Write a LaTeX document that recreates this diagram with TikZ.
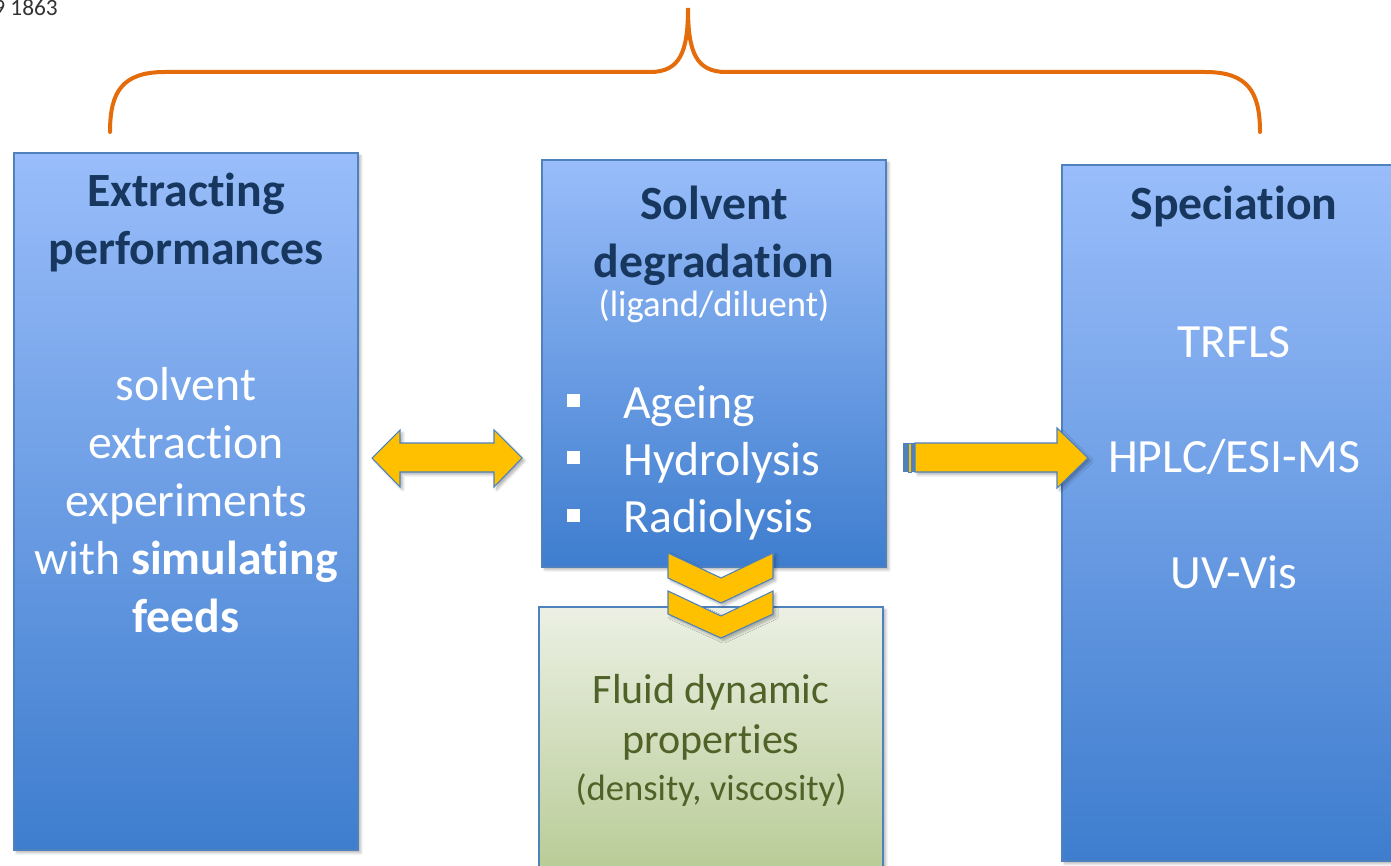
\documentclass[tikz,border=0pt]{standalone}
\usepackage{fontspec}
\setmainfont{Carlito}[Ligatures=NoCommon]
\usetikzlibrary{fit,shadows.blur}
\definecolor{boxtop}{RGB}{153,189,250}
\definecolor{boxbot}{RGB}{62,125,206}
\definecolor{boxline}{RGB}{79,129,189}
\definecolor{greentop}{RGB}{236,240,228}
\definecolor{greenbot}{RGB}{184,204,150}
\definecolor{headcol}{RGB}{23,55,94}
\definecolor{greentext}{RGB}{79,98,40}
\definecolor{arrowfill}{RGB}{255,192,0}
\definecolor{braceorange}{RGB}{228,108,10}
\begin{document}
\begin{tikzpicture}[x=0.75pt,y=-0.75pt,
  shad/.style={blur shadow={shadow xshift=2pt,shadow yshift=-2pt,shadow blur steps=6,shadow opacity=30}},
  panel/.style={draw=boxline, line width=0.8pt, top color=boxtop, bottom color=boxbot, inner sep=0pt, shad},
  greenpanel/.style={draw=boxline, line width=0.8pt, top color=greentop, bottom color=greenbot, inner sep=0pt, shad},
  txt/.style={inner sep=0pt, anchor=base, font=\fontsize{35.8}{43}\selectfont},
  body/.style={txt, text=white},
  head/.style={txt, text=headcol, font=\fontsize{35.8}{43}\selectfont\bfseries},
  small/.style={inner sep=0pt, anchor=base, font=\fontsize{27.5}{33}\selectfont},
  mid/.style={inner sep=0pt, anchor=base, font=\fontsize{31.5}{38}\selectfont, text=greentext},
  bodyleft/.style={body, anchor=base west},
  bullet/.style={fill=white, inner sep=0pt, minimum size=9.75pt},
  yarrow/.style={fill=arrowfill, draw=boxline, line width=0.8pt, line join=miter, shad},
  brace/.style={draw=braceorange, line width=3pt, line cap=round}
]
\useasboundingbox (0,0) rectangle (1391,866);

% corner text
\node[inner sep=0pt, anchor=base east, text=black!80, font=\fontsize{17.5}{20}\selectfont] (ref) at (58,16) {9 1863};

% brace
\draw[brace] (110,132) .. controls (110,92) and (122,72) .. (165,72) -- (650,72)
  .. controls (680,72) and (688,52) .. (688,8)
  .. controls (688,52) and (696,72) .. (726,72) -- (1205,72)
  .. controls (1248,72) and (1260,92) .. (1260,132);

% boxes
\node[panel, fit={(14,153)(358,850)}] (left) {};
\node[panel, fit={(542,160)(886,567)}] (middle) {};
\node[greenpanel, fit={(539,607)(883,870)}] (fluid) {};
\node[panel, fit={(1062,165)(1395,861)}] (right) {};

% left texts
\node[head] (l1) at (186,207) {Extracting};
\node[head] (l2) at (186,265) {performances};
\node[body] (l3) at (186,400) {solvent};
\node[body] (l4) at (186,458) {extraction};
\node[body] (l5) at (186,516) {experiments};
\node[body] (l6) at (186,574) {with \textbf{simulating}};
\node[body] (l7) at (186,632) {\textbf{feeds}};

% middle texts
\node[head] (m1) at (714,220) {Solvent};
\node[head] (m2) at (714,277) {degradation};
\node[small, text=white] (m3) at (714,316) {(ligand/diluent)};
\node[bullet] (b1) at (573.5,400) {};
\node[bullet] (b2) at (573.5,457) {};
\node[bullet] (b3) at (573.5,515) {};
\node[bodyleft] (m4) at (623,418) {Ageing};
\node[bodyleft] (m5) at (623,475) {Hydrolysis};
\node[bodyleft] (m6) at (623,532) {Radiolysis};

% right texts
\node[head] (r1) at (1234,220) {Speciation};
\node[body] (r2) at (1234,357) {TRFLS};
\node[body] (r3) at (1234,472) {HPLC/ESI-MS};
\node[body] (r4) at (1234,588) {UV-Vis};

% green texts
\node[mid] (g1) at (711,703) {Fluid dynamic};
\node[mid] (g2) at (711,753) {properties};
\node[small, text=greentext] (g3) at (711,800) {(density, viscosity)};

% double arrow
\path[yarrow] (372,458) -- (400,430) -- (400,443) -- (494,443) -- (494,430) -- (522,458)
  -- (494,487) -- (494,472) -- (400,472) -- (400,487) -- cycle;

% right arrow
\path[yarrow] (915,443) -- (1057,443) -- (1057,428) -- (1088,458) -- (1057,488) -- (1057,472) -- (915,472) -- cycle;
\fill[boxline] (903,443) rectangle (908,472);
\filldraw[fill=arrowfill, draw=boxline, line width=0.5pt] (908,443) rectangle (911,472);
\fill[boxline] (911,443) rectangle (915,472);

% chevrons
\path[yarrow] (668,553) -- (721,578) -- (773,553) -- (773,578) -- (721,603) -- (668,578) -- cycle;
\path[yarrow] (668,591) -- (721,616) -- (773,591) -- (773,614) -- (721,638) -- (668,614) -- cycle;
\end{tikzpicture}
\end{document}
